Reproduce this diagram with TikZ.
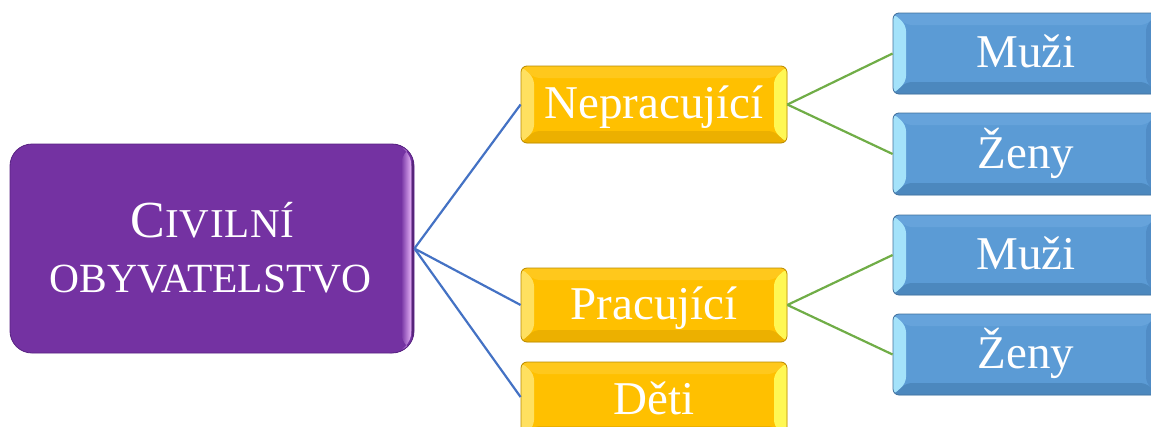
\documentclass[tikz,border=0pt]{standalone}
\usepackage{fontspec}
\setmainfont{Liberation Serif}
\usetikzlibrary{calc}

\definecolor{civpurple}{RGB}{116,50,162}
\definecolor{civedge}{RGB}{88,34,130}
\definecolor{civglow}{RGB}{232,180,248}
\definecolor{ylface}{RGB}{255,192,0}
\definecolor{yledge}{RGB}{184,138,0}
\definecolor{ylleft}{RGB}{255,224,96}
\definecolor{ylright}{RGB}{255,248,84}
\definecolor{yltop}{RGB}{255,200,28}
\definecolor{ylbottom}{RGB}{236,176,0}
\definecolor{blface}{RGB}{91,155,213}
\definecolor{bledge}{RGB}{65,113,156}
\definecolor{blleft}{RGB}{164,226,250}
\definecolor{blright}{RGB}{80,140,198}
\definecolor{bltop}{RGB}{102,163,219}
\definecolor{blbottom}{RGB}{76,136,190}
\definecolor{linkblue}{RGB}{68,114,196}
\definecolor{linkgreen}{RGB}{112,173,71}

\tikzset{
  % bevelled box: face, left, right, top, bottom colours
  bevel/.style n args={5}{
    fill=#1, rounded corners=6pt,
    path picture={
      \coordinate (bvNW) at (path picture bounding box.north west);
      \coordinate (bvNE) at (path picture bounding box.north east);
      \coordinate (bvSW) at (path picture bounding box.south west);
      \coordinate (bvSE) at (path picture bounding box.south east);
      \coordinate (ivNW) at ($(bvNW)+(13pt,-12pt)$);
      \coordinate (ivNE) at ($(bvNE)+(-13pt,-12pt)$);
      \coordinate (ivSW) at ($(bvSW)+(13pt,12pt)$);
      \coordinate (ivSE) at ($(bvSE)+(-13pt,12pt)$);
      \fill[#4] (bvNW) -- (bvNE) -- (ivNE) -- (ivNW) -- cycle;
      \fill[#5] (bvSW) -- (bvSE) -- (ivSE) -- (ivSW) -- cycle;
      \fill[#2] (bvNW) -- (ivNW) -- (ivSW) -- (bvSW) -- cycle;
      \fill[#3] (bvNE) -- (ivNE) -- (ivSE) -- (bvSE) -- cycle;
    }
  },
  boxtext/.style={inner sep=0pt, minimum width=266pt, text=white,
    text height=28pt, text depth=0pt, font=\fontsize{47}{56}\selectfont},
  ylbox/.style={boxtext, draw=yledge, line width=0.8pt,
    bevel={ylface}{ylleft}{ylright}{yltop}{ylbottom}},
  blbox/.style={boxtext, draw=bledge, line width=0.8pt,
    bevel={blface}{blleft}{blright}{bltop}{blbottom}},
  civbox/.style={fill=civpurple, draw=civedge, line width=0.8pt, rounded corners=22pt,
    minimum width=404pt, minimum height=209pt, inner sep=0pt,
    path picture={
      \coordinate (cvNE) at (path picture bounding box.north east);
      \coordinate (cvSE) at (path picture bounding box.south east);
      \fill[left color=civpurple, right color=civglow] ($(cvNE)+(-13pt,0pt)$) rectangle ($(cvSE)+(-2.5pt,0pt)$);
      \fill[civpurple!75!black] ($(cvSE)+(-2.5pt,0pt)$) rectangle (cvNE);
    }},
  civtext/.style={text=white, inner sep=0pt, anchor=base},
  bluelink/.style={draw=linkblue, line width=2.2pt},
  greenlink/.style={draw=linkgreen, line width=2.2pt}
}

\begin{document}
\begin{tikzpicture}[x=1pt,y=-1pt]
\useasboundingbox (0,0) rectangle (1151,426);

% root
\node[civbox] (civ) at (212,248.5) {};
\node[civtext] (civA) at (212.5,237)
  {{\fontsize{52}{60}\selectfont C}{\fontsize{41}{48}\selectfont I\kern0.8pt V\kern0.8pt I\kern0.8pt L\kern0.8pt N\kern0.8pt Í}};
\node[civtext] (civB) at (210.5,292) {\fontsize{41.5}{48}\selectfont OBYVATELSTVO};

% second level
\node[ylbox, minimum height=77pt] (nep) at (654,104.5) {Nepracující};
\node[ylbox, minimum height=74pt] (pra) at (654,305) {Pracující};
\node[ylbox, minimum height=76pt] (det) at (654,400) {Děti};

% third level
\node[blbox, minimum height=81pt] (m1) at (1026,53.5) {Muži};
\node[blbox, minimum height=82pt] (z1) at (1026,154) {Ženy};
\node[blbox, minimum height=80pt] (m2) at (1026,255) {Muži};
\node[blbox, minimum height=81pt] (z2) at (1026,354.5) {Ženy};

% connectors
\draw[bluelink] (civ.east) -- (nep.west);
\draw[bluelink] (civ.east) -- (pra.west);
\draw[bluelink] (civ.east) -- ($(det.west)+(0,-3)$);
\draw[greenlink] (nep.east) -- (m1.west);
\draw[greenlink] (nep.east) -- (z1.west);
\draw[greenlink] (pra.east) -- (m2.west);
\draw[greenlink] (pra.east) -- (z2.west);
\end{tikzpicture}
\end{document}
